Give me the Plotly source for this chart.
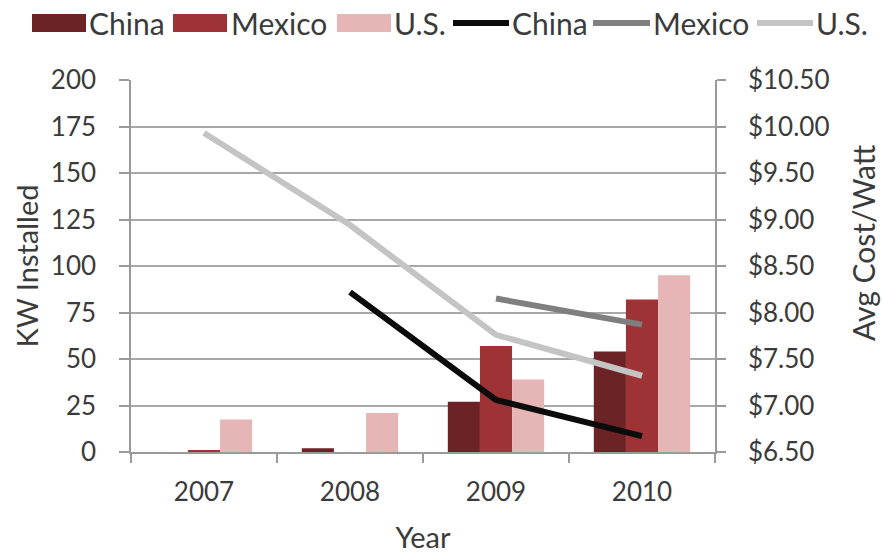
import plotly.graph_objects as go

# ---- data -------------------------------------------------------------
years = ["2007", "2008", "2009", "2010"]

# KW installed per year (left axis)
kw_china = [0, 2, 27, 54]
kw_mexico = [1, 0, 57, 82]
kw_us = [17.5, 21, 39, 95]

# average installed cost per watt in dollars (right axis)
cost_china = [None, 8.22, 7.06, 6.67]
cost_mexico = [None, None, 8.15, 7.87]
cost_us = [9.93, 8.94, 7.76, 7.32]

series_names = ["China", "Mexico", "U.S."]
left_ticks = [0, 25, 50, 75, 100, 125, 150, 175, 200]
right_ticks = [6.5, 7.0, 7.5, 8.0, 8.5, 9.0, 9.5, 10.0, 10.5]

# ---- styling ------------------------------------------------------------
W, H = 883, 554
M_L, M_R, M_T, M_B = 131, 168, 80, 102
FONT = "Lato, 'Open Sans', sans-serif"
TEXT = "#3b3b3b"
AXIS = "#9a9a9a"
GRID = "#a8a8a8"

bar_colors = ["#6c2326", "#9e3335", "#e6b5b5"]
line_colors = ["#0b0b0b", "#7f7f7f", "#c4c4c4"]

fig = go.Figure()

for name, vals, col in zip(series_names, [kw_china, kw_mexico, kw_us], bar_colors):
    fig.add_trace(go.Bar(x=years, y=vals, name=name, marker_color=col,
                         marker_line_width=0, showlegend=False, yaxis="y"))

for name, vals, col in zip(series_names, [cost_china, cost_mexico, cost_us], line_colors):
    fig.add_trace(go.Scatter(x=years, y=vals, name=name, mode="lines",
                             line=dict(color=col, width=6), connectgaps=False,
                             showlegend=False, yaxis="y2"))

# ---- legend drawn along the top (pixel layout -> paper coords) ----------
plot_w = W - M_L - M_R
plot_h = H - M_T - M_B


def px_x(px):
    return (px - M_L) / plot_w


def px_y(py):
    return (H - M_B - py) / plot_h


legend_items = [
    ("bar", series_names[0], bar_colors[0], 32, 86, 87),
    ("bar", series_names[1], bar_colors[1], 173, 227, 229),
    ("bar", series_names[2], bar_colors[2], 337, 391, 392),
    ("line", series_names[0], line_colors[0], 453, 509, 510),
    ("line", series_names[1], line_colors[1], 593, 650, 651),
    ("line", series_names[2], line_colors[2], 757, 813, 814),
]
shapes = []
annotations = []
for kind, label, col, x0, x1, tx in legend_items:
    if kind == "bar":
        shapes.append(dict(type="rect", xref="paper", yref="paper",
                           x0=px_x(x0), x1=px_x(x1), y0=px_y(32), y1=px_y(14),
                           fillcolor=col, line_width=0))
    else:
        shapes.append(dict(type="line", xref="paper", yref="paper",
                           x0=px_x(x0), x1=px_x(x1), y0=px_y(23), y1=px_y(23),
                           line=dict(color=col, width=6)))
    annotations.append(dict(text=label, xref="paper", yref="paper",
                            x=px_x(tx), y=px_y(23), xanchor="left", yanchor="middle",
                            showarrow=False, font=dict(family=FONT, size=30, color=TEXT)))

# right-hand axis title, sitting a little above the axis middle
annotations.append(dict(text="Avg Cost/Watt", xref="paper", yref="paper",
                        x=px_x(863), y=px_y(243), xanchor="center", yanchor="middle",
                        textangle=-90, showarrow=False,
                        font=dict(family=FONT, size=30, color=TEXT)))

fig.update_layout(
    width=W, height=H,
    margin=dict(l=M_L, r=M_R, t=M_T, b=M_B, pad=0, autoexpand=False),
    paper_bgcolor="white", plot_bgcolor="white",
    barmode="group", bargap=0.34, bargroupgap=0,
    font=dict(family=FONT, size=26, color=TEXT),
    shapes=shapes, annotations=annotations,
    showlegend=False,
    xaxis=dict(
        type="category", categoryorder="array", categoryarray=years,
        automargin=False,
        showline=True, linecolor=AXIS, linewidth=1.5,
        ticks="outside", tickson="boundaries", ticklen=9, tickcolor=AXIS, tickwidth=1.5,
        showgrid=False, ticklabelstandoff=16,
        tickfont=dict(size=26, color=TEXT),
        title=dict(text="Year", font=dict(size=29, color=TEXT), standoff=25),
    ),
    yaxis=dict(
        range=[0, 200], tickvals=left_ticks, automargin=False,
        showgrid=True, gridcolor=GRID, gridwidth=1.5,
        showline=True, linecolor=AXIS, linewidth=1.5,
        ticks="outside", ticklen=10, tickcolor=AXIS, tickwidth=1.5,
        zeroline=False, ticklabelstandoff=18,
        tickfont=dict(size=26, color=TEXT),
        title=dict(text="KW Installed", font=dict(size=29, color=TEXT), standoff=4),
    ),
    yaxis2=dict(
        overlaying="y", side="right", range=[6.5, 10.5], tickvals=right_ticks,
        tickformat="$.2f", automargin=False,
        showgrid=False, zeroline=False,
        showline=True, linecolor=AXIS, linewidth=1.5,
        ticks="outside", ticklen=9, tickcolor=AXIS, tickwidth=1.5,
        ticklabelstandoff=17,
        tickfont=dict(size=26, color=TEXT),
    ),
)

fig.write_html("out.html")
